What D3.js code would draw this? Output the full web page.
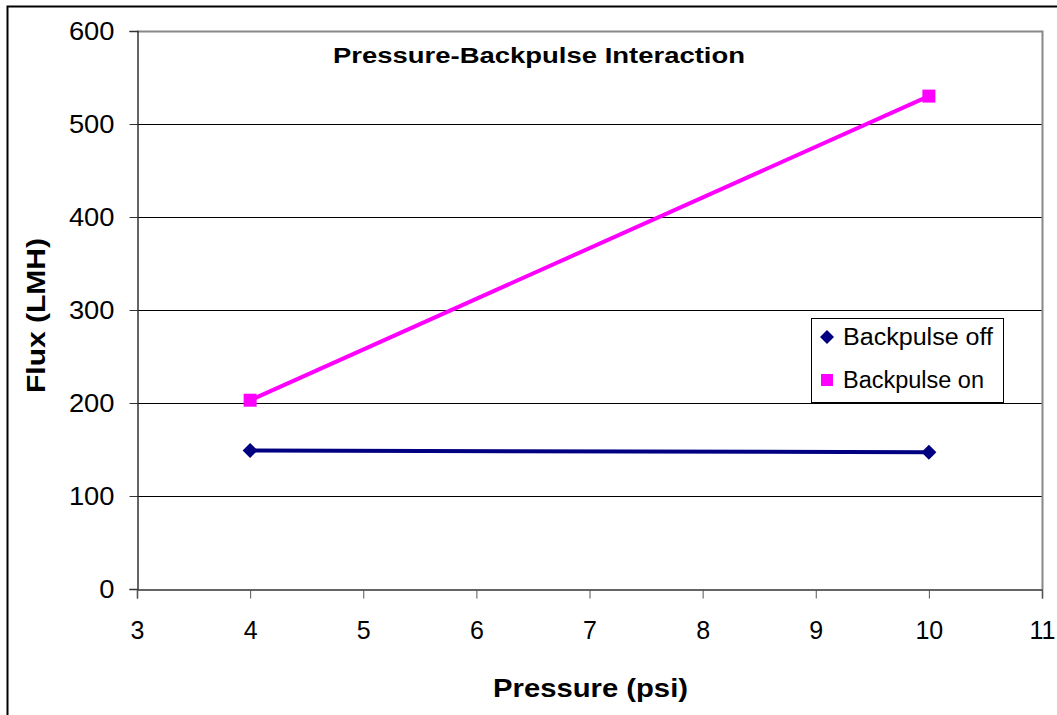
<!DOCTYPE html>
<html>
<head>
<meta charset="utf-8">
<script src="https://cdn.jsdelivr.net/npm/d3@7"></script>
<style>
  html, body { margin: 0; padding: 0; background: #fff; }
  svg { display: block; font-family: "Liberation Sans", Arial, sans-serif; }
</style>
</head>
<body>
<svg id="chart" width="1057" height="715"></svg>
<script>
// Flux measured at two feed pressures, with and without backpulsing
const pressure = [4, 10];
const fluxOff = [149, 147];
const fluxOn = [203, 530];
const seriesNames = ["Backpulse off", "Backpulse on"];
const xTicks = [3, 4, 5, 6, 7, 8, 9, 10, 11];
const yTicks = [0, 100, 200, 300, 400, 500, 600];

const svg = d3.select("#chart");
const plot = { left: 137, top: 31, right: 1042, bottom: 589 };

const x = d3.scaleLinear().domain([3, 11]).range([plot.left, plot.right]);
const y = d3.scaleLinear().domain([0, 600]).range([plot.bottom, plot.top]);

// diamond drawn as a square turned 45 degrees
const diamond = r => `M0,${-r}L${r},0L0,${r}L${-r},0Z`;
const square = r => `M${-r},${-r}H${r}V${r}H${-r}Z`;

// outer frame (top and left edges)
svg.append("path")
  .attr("d", "M7.5,715 V6.5 H1057")
  .attr("fill", "none").attr("stroke", "#000").attr("stroke-width", 2);

// horizontal gridlines
svg.append("g").selectAll("line")
  .data(yTicks.filter(v => v > 0 && v < 600))
  .join("line")
  .attr("x1", plot.left).attr("x2", plot.right)
  .attr("y1", d => Math.round(y(d)) + 0.5).attr("y2", d => Math.round(y(d)) + 0.5)
  .attr("stroke", "#000").attr("stroke-width", 1);

// plot area border: top and right in gray
svg.append("path")
  .attr("d", `M${plot.left},${plot.top + 0.5} H${plot.right + 0.5} V${plot.bottom}`)
  .attr("fill", "none").attr("stroke", "#888").attr("stroke-width", 2);

// y axis
const yAxis = svg.append("g")
  .attr("transform", `translate(${plot.left + 0.5},0)`)
  .call(d3.axisLeft(y).tickValues(yTicks).tickSize(8).tickPadding(15));
yAxis.select(".domain").attr("stroke", "#333").attr("stroke-width", 1.5);
yAxis.selectAll(".tick line").attr("stroke", "#333");
yAxis.selectAll("text")
  .attr("font-size", 25).attr("fill", "#000")
  .attr("font-family", "Liberation Sans, Arial, sans-serif")
  .attr("textLength", d => String(d).length * 15.2)
  .attr("lengthAdjust", "spacingAndGlyphs");

// x axis
const xAxis = svg.append("g")
  .attr("transform", `translate(0,${plot.bottom + 0.5})`)
  .call(d3.axisBottom(x).tickValues(xTicks).tickSize(9).tickPadding(23));
xAxis.select(".domain").attr("stroke", "#333").attr("stroke-width", 1.5);
xAxis.selectAll(".tick line").attr("stroke", "#555");
xAxis.selectAll("text")
  .attr("font-size", 25).attr("fill", "#000")
  .attr("font-family", "Liberation Sans, Arial, sans-serif");

// series
const series = [
  { name: seriesNames[0], values: fluxOff, color: "#000080", shape: diamond, r: 7.5, lr: 7 },
  { name: seriesNames[1], values: fluxOn, color: "#ff00ff", shape: square, r: 6.5, lr: 6 }
];

const line = d3.line().x(d => x(d[0])).y(d => y(d[1]));

series.forEach(s => {
  const pts = pressure.map((p, i) => [p, s.values[i]]);
  svg.append("path")
    .datum(pts)
    .attr("d", line)
    .attr("fill", "none")
    .attr("stroke", s.color)
    .attr("stroke-width", 4);
  svg.append("g").selectAll("path")
    .data(pts)
    .join("path")
    .attr("transform", d => `translate(${x(d[0])},${y(d[1])})`)
    .attr("d", s.shape(s.r))
    .attr("fill", s.color);
});

// title
svg.append("text")
  .attr("x", 333).attr("y", 63)
  .attr("font-size", 22).attr("font-weight", "bold")
  .attr("textLength", 412).attr("lengthAdjust", "spacingAndGlyphs")
  .text("Pressure-Backpulse Interaction");

// axis titles
svg.append("text")
  .attr("x", 493).attr("y", 697)
  .attr("font-size", 25).attr("font-weight", "bold")
  .attr("textLength", 195).attr("lengthAdjust", "spacingAndGlyphs")
  .text("Pressure (psi)");

svg.append("text")
  .attr("transform", "translate(45,393) rotate(-90)")
  .attr("font-size", 25).attr("font-weight", "bold")
  .attr("textLength", 155).attr("lengthAdjust", "spacingAndGlyphs")
  .text("Flux (LMH)");

// legend
const legend = svg.append("g");
legend.append("rect")
  .attr("x", 811.5).attr("y", 318.5)
  .attr("width", 192).attr("height", 84)
  .attr("fill", "#fff").attr("stroke", "#000").attr("stroke-width", 1);

series.forEach((s, i) => {
  const cy = 337 + i * 43;
  legend.append("path")
    .attr("transform", `translate(827,${cy})`)
    .attr("d", s.shape(s.lr))
    .attr("fill", s.color);
  legend.append("text")
    .attr("x", 843).attr("y", cy + 8)
    .attr("font-size", 23)
    .attr("textLength", i === 0 ? 150 : 141).attr("lengthAdjust", "spacingAndGlyphs")
    .text(s.name);
});
</script>
</body>
</html>
